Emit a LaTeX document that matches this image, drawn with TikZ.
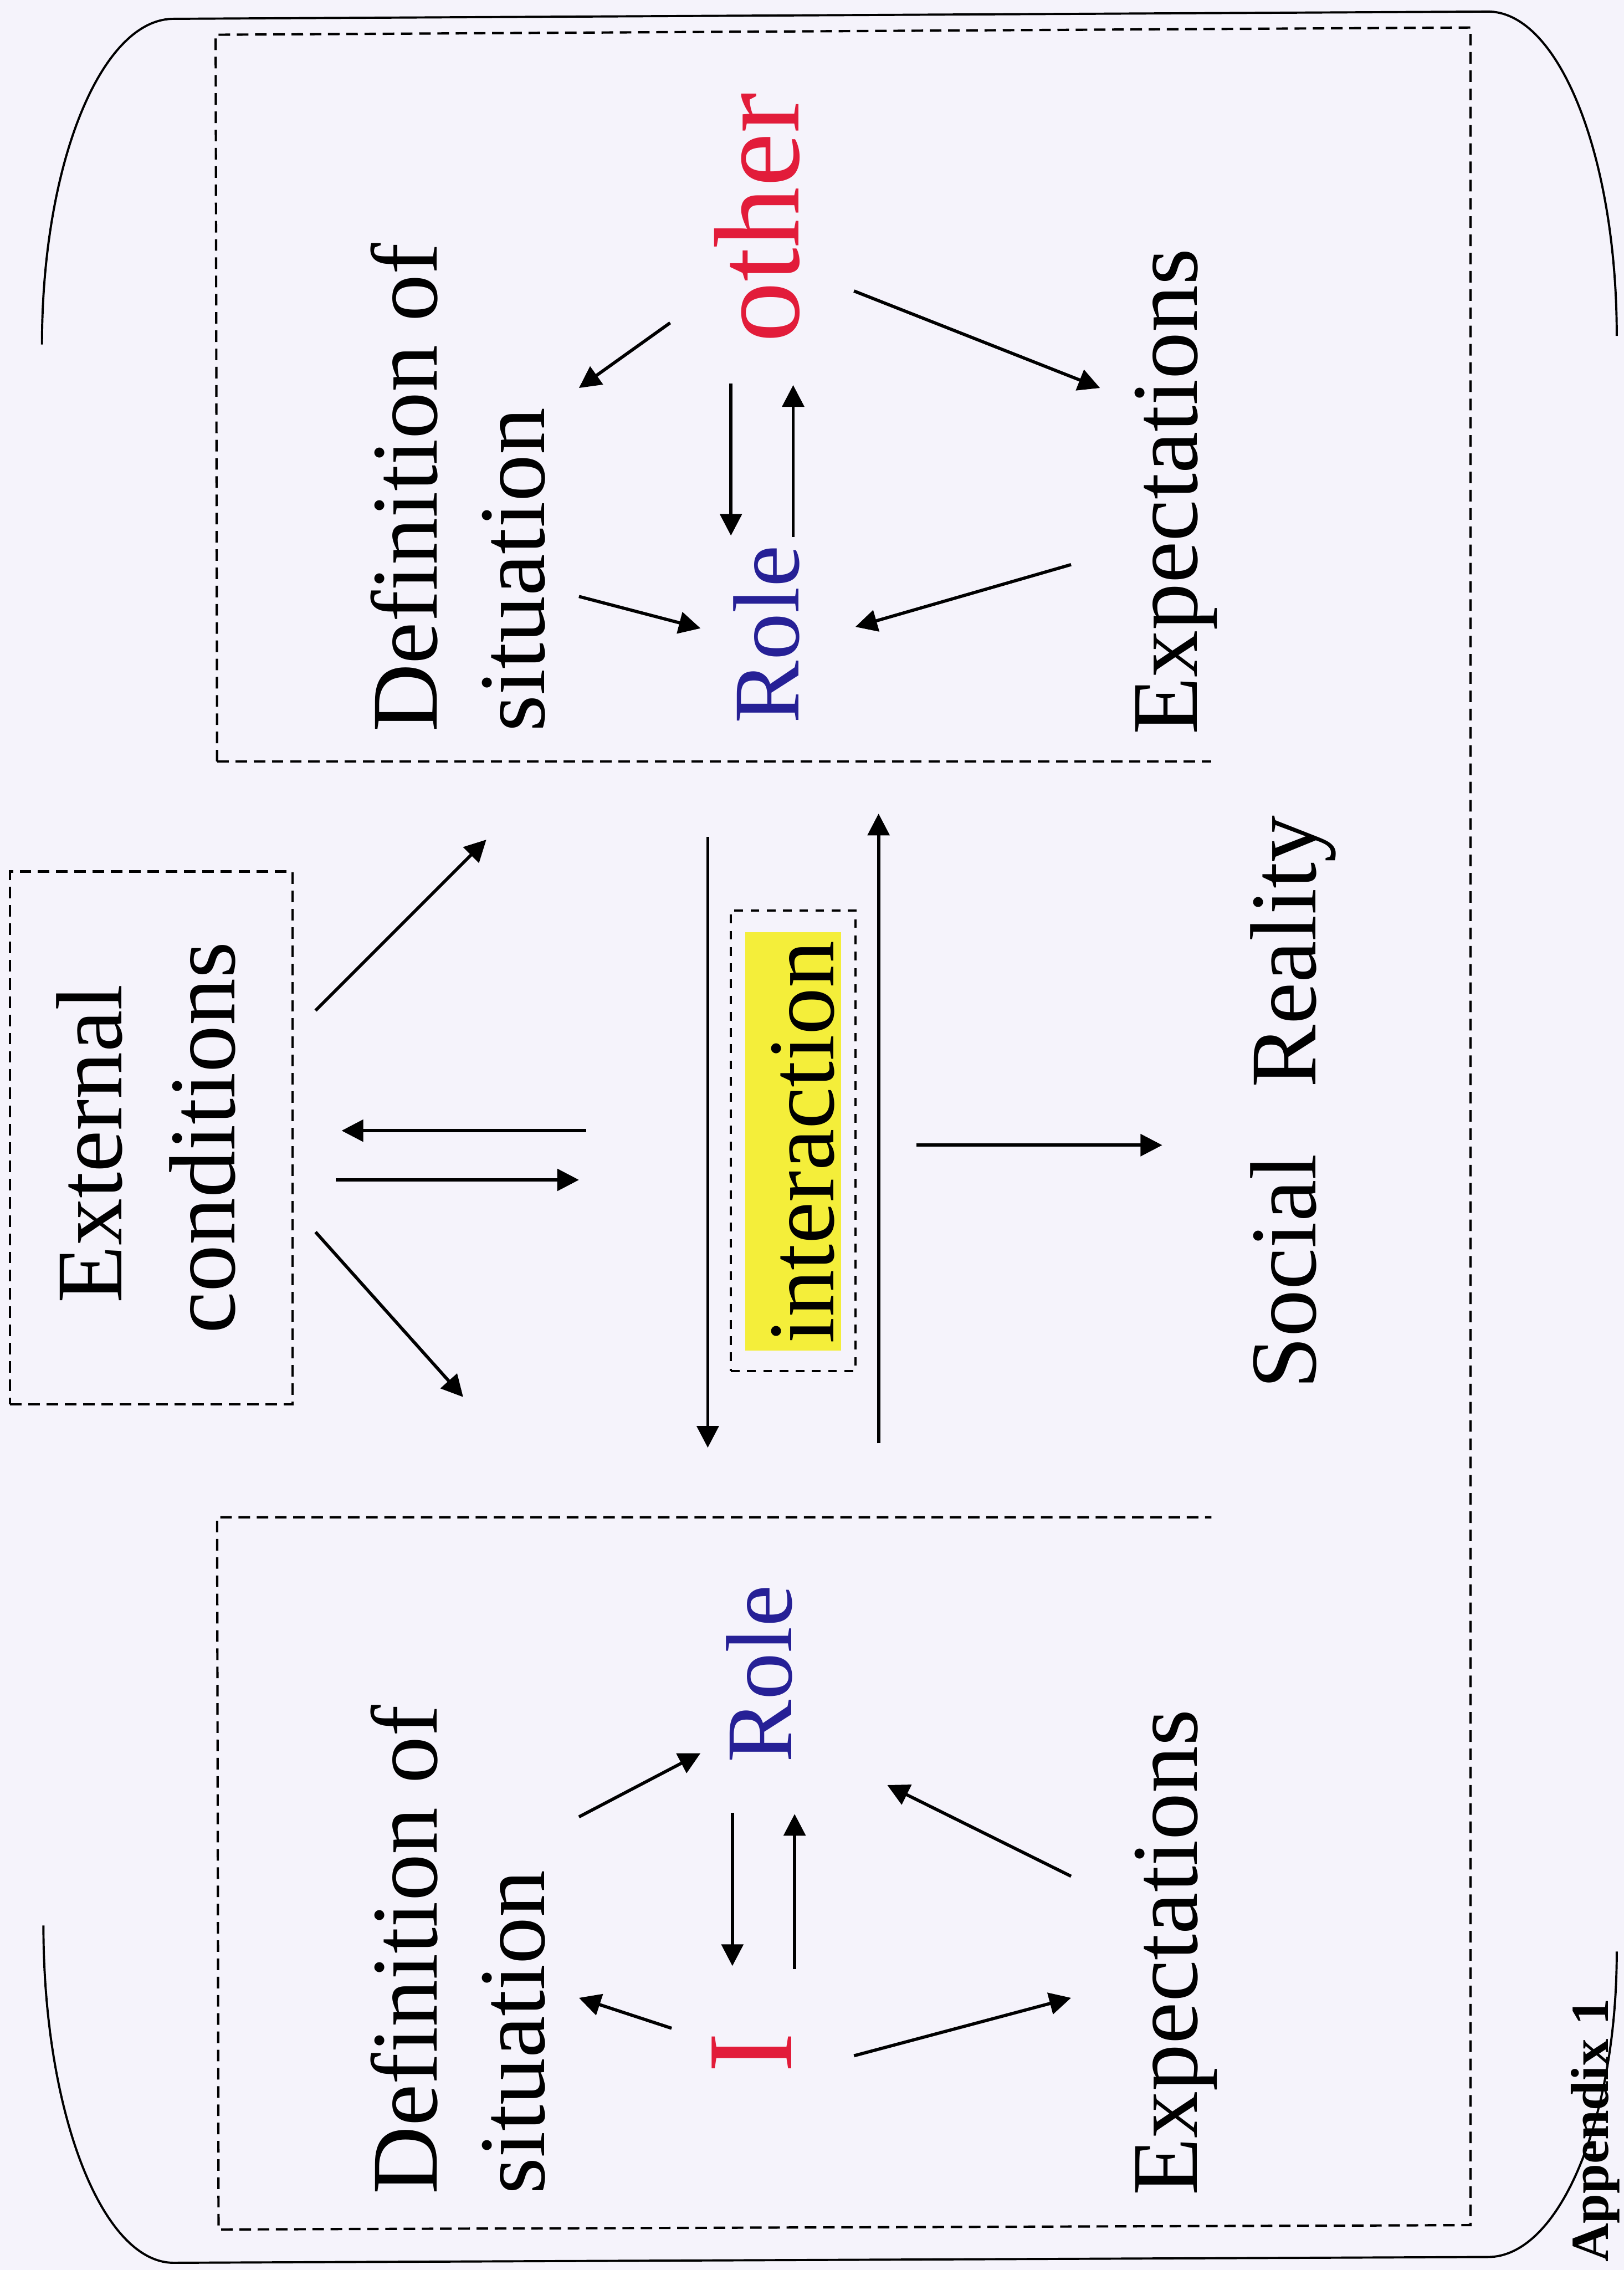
\documentclass[tikz,border=0pt]{standalone}
\usepackage{fontspec}
\setmainfont{Liberation Serif}
\usetikzlibrary{arrows.meta}
\definecolor{bg}{RGB}{245,243,251}
\definecolor{roleblue}{RGB}{38,32,150}
\definecolor{otherred}{RGB}{226,28,58}
\definecolor{hiyellow}{RGB}{244,238,58}
\begin{document}
\begin{tikzpicture}[x=0.5pt,y=-0.5pt,
  lbl/.style={inner sep=0pt, rotate=90, font=\fontsize{32.5}{39}\selectfont},
  big/.style={inner sep=0pt, rotate=90, font=\fontsize{42}{48}\selectfont, text=otherred},
  rolelbl/.style={lbl, text=roleblue},
  arr/.style={line width=1.1pt, -{Triangle[length=7.5pt,width=7.5pt]}},
  dbox/.style={line width=0.8pt, dash pattern=on 4pt off 2.3pt},
  sdbox/.style={line width=0.8pt, dash pattern=on 3pt off 2.6pt},
  brk/.style={line width=0.75pt}]

\fill[bg] (0,0) rectangle (1122,1568);
\useasboundingbox (0,0) rectangle (1122,1568);

% outer brackets
\draw[brk] (29,238) .. controls (29,113.7) and (69.7,13) .. (120,13)
  -- (1028,8) .. controls (1077.2,8) and (1117,108.3) .. (1117,232);
\draw[brk] (30,1330) .. controls (30,1458.7) and (70.3,1563) .. (120,1563)
  -- (1028,1559) .. controls (1077.2,1559) and (1117,1464.5) .. (1117,1348);

% dashed frames of the two groups
\draw[dbox] (150,526) -- (149,24) -- (1016,19) -- (1016,1537) -- (151,1540) -- (150,1048) -- (837,1048);
\draw[dbox] (150,526) -- (837,526);

% external conditions
\node[draw, dbox, minimum width=97.5pt, minimum height=184pt, inner sep=0pt] (extbox) at (104.5,786) {};
\node[lbl, anchor=base] (ext1) at (84,790) {External};
\node[lbl, anchor=base] (ext2) at (162,786) {conditions};

% interaction
\node[fill=hiyellow, minimum width=33pt, minimum height=144.5pt, inner sep=0pt] (interbg) at (548,788.5) {};
\node[draw, sdbox, minimum width=43pt, minimum height=159pt, inner sep=0pt] (interbox) at (548,788) {};
\node[lbl, anchor=base] (inter) at (576,789) {interaction};

% upper group
\node[lbl, anchor=base west] (udef) at (302,506) {Definition of};
\node[lbl, anchor=base west] (usit) at (376,506) {situation};
\node[rolelbl, anchor=base west] (urole) at (552,500) {Role};
\node[big, anchor=base west] (uother) at (552,237) {other};
\node[lbl, anchor=base west] (uexp) at (827,508) {Expectations};

% lower group
\node[lbl, anchor=base west] (ldef) at (302,1516) {Definition of};
\node[lbl, anchor=base west] (lsit) at (376,1516) {situation};
\node[rolelbl, anchor=base west] (lrole) at (547,1218) {Role};
\node[big, anchor=base] (lI) at (547,1418) {I};
\node[lbl, anchor=base west] (lexp) at (827,1517) {Expectations};

% social reality
\node[lbl, anchor=base west] (social) at (909,960) {Social\hspace{23pt}Reality};

% appendix label
\node[inner sep=0pt, rotate=90, anchor=base west, font=\bfseries\fontsize{18.5}{22}\selectfont] (appx) at (1111,1563) {Appendix 1};

% connector end points
\coordinate (a1s) at (463,223); \coordinate (a1e) at (400,268);
\coordinate (a2s) at (590,201); \coordinate (a2e) at (760,268);
\coordinate (a3s) at (505,265); \coordinate (a3e) at (505,370);
\coordinate (a4s) at (548,371); \coordinate (a4e) at (548,266);
\coordinate (a5s) at (400,412); \coordinate (a5e) at (484,434);
\coordinate (a6s) at (740,390); \coordinate (a6e) at (591,433);

\coordinate (b1s) at (464,1401); \coordinate (b1e) at (400,1380);
\coordinate (b2s) at (590,1420); \coordinate (b2e) at (740,1380);
\coordinate (b3s) at (506,1252); \coordinate (b3e) at (506,1358);
\coordinate (b4s) at (549,1360); \coordinate (b4e) at (549,1253);
\coordinate (b5s) at (400,1255); \coordinate (b5e) at (484,1211);
\coordinate (b6s) at (740,1296); \coordinate (b6e) at (613,1233);

\coordinate (c1s) at (218,698); \coordinate (c1e) at (336,580);
\coordinate (c2s) at (405,781); \coordinate (c2e) at (236,781);
\coordinate (c3s) at (232,815); \coordinate (c3e) at (400,815);
\coordinate (c4s) at (218,851); \coordinate (c4e) at (320,965);
\coordinate (c5s) at (489,578); \coordinate (c5e) at (489,1000);
\coordinate (c6s) at (607,997); \coordinate (c6e) at (607,562);
\coordinate (c7s) at (633,791); \coordinate (c7e) at (803,791);

\foreach \n in {a1,a2,a3,a4,a5,a6,b1,b2,b3,b4,b5,b6,c1,c2,c3,c4,c5,c6,c7}
  \draw[arr] (\n s) -- (\n e);
\end{tikzpicture}
\end{document}
